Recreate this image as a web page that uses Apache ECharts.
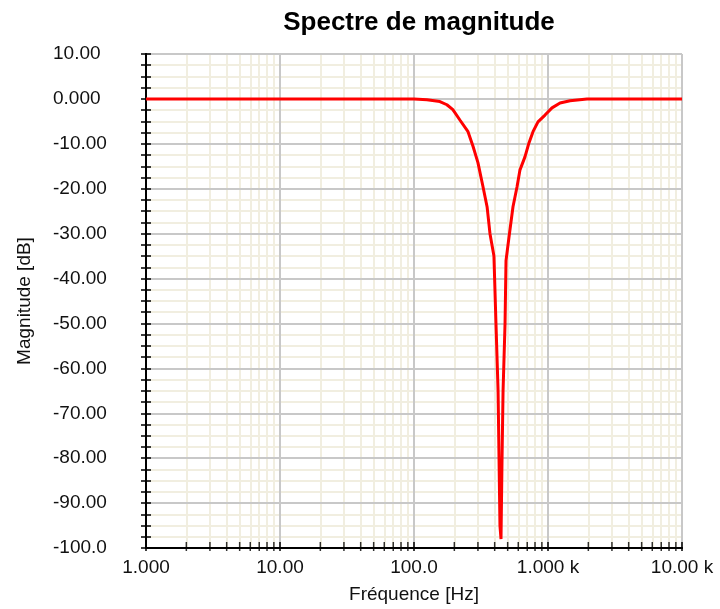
<!DOCTYPE html>
<html>
<head>
<meta charset="utf-8">
<title>Spectre de magnitude</title>
<script src="https://cdn.jsdelivr.net/npm/echarts@6/dist/echarts.min.js"></script>
<style>
	html, body { margin: 0; padding: 0; background: #fff; }
	#SpectreChart { width: 720px; height: 609px; }
</style>
</head>
<body>
<div id="SpectreChart"></div>
<script>
// Réponse en fréquence du filtre coupe-bande
var freqHz = [1, 100, 125, 156, 176, 195, 220, 253, 276, 300, 327, 351, 369, 395, 409, 424, 431, 438, 446,
	454, 462, 478, 486, 512, 548, 587, 618, 673, 721, 773, 842, 950, 1071, 1230, 1460, 1955, 10000];
var magDb = [0, 0, -0.2, -0.6, -1.3, -2.4, -4.7, -7.3, -10.6, -14.2, -19.5, -24, -30, -35, -50, -65, -80, -95, -98,
	-80, -65, -50, -36, -30.7, -24, -19.6, -15.8, -12.9, -9.8, -7.3, -5.1, -3.6, -2, -0.9, -0.4, 0, 0];

// graduations secondaires de l'axe log (2..9 par décade)
var minorFreq = [2, 3, 4, 5, 6, 7, 8, 9, 20, 30, 40, 50, 60, 70, 80, 90,
	200, 300, 400, 500, 600, 700, 800, 900, 2000, 3000, 4000, 5000, 6000, 7000, 8000, 9000];

var yMin = -100, yMax = 10, yStep = 10;
var fMin = 1, fMax = 10000;

var curve = [];
for (var i = 0; i < freqHz.length; i++) {
	curve.push([freqHz[i], magDb[i]]);
}
var minorTickPts = [];
var minorLines = [];
for (var j = 0; j < minorFreq.length; j++) {
	minorTickPts.push([minorFreq[j], yMin]);
	minorLines.push({ xAxis: minorFreq[j] });
}

function fmtX(v) {
	if (v >= 1000) return (v / 1000).toPrecision(4) + ' k';
	return Number(v).toPrecision(4);
}
function fmtY(v) {
	return Number(v).toPrecision(4);
}

var font = 'Liberation Sans, Arial, sans-serif';
var gridGray = '#c8c8c8';
var gridBeige = '#f1eee0';

var SpectreChart = echarts.init(document.getElementById('SpectreChart'));
SpectreChart.setOption({
	animation : false,
	title : {
		text : 'Spectre de magnitude',
		left : 414,
		top : 5,
		textAlign : 'center',
		textStyle : {
			color : '#000',
			fontFamily : font,
			fontWeight : 'bold',
			fontSize : 26
		}
	},
	grid : {
		left : 146,
		right : 38,
		top : 54,
		bottom : 60
	},
	xAxis : [ {
		type : 'log',
		logBase : 10,
		min : fMin,
		max : fMax,
		name : 'Fréquence [Hz]',
		nameLocation : 'middle',
		nameGap : 37,
		nameTextStyle : { color : '#111', fontFamily : font, fontSize : 19 },
		axisLine : { onZero : false, lineStyle : { color : '#000', width : 2 } },
		axisTick : { inside : true, length : 6, lineStyle : { color : '#000', width : 1.5 } },
		axisLabel : { color : '#111', fontFamily : font, fontSize : 19, margin : 10, formatter : fmtX },
		splitLine : { show : true, lineStyle : { color : gridGray, width : 2 } }
	}, {
		type : 'log',
		logBase : 10,
		min : fMin,
		max : fMax,
		position : 'bottom',
		axisLine : { onZero : false, lineStyle : { color : '#000', width : 2 } },
		axisTick : { inside : false, length : 3, lineStyle : { color : '#000', width : 1.5 } },
		axisLabel : { show : false },
		splitLine : { show : false }
	} ],
	yAxis : [ {
		type : 'value',
		min : yMin,
		max : yMax,
		interval : yStep,
		position : 'left',
		name : 'Magnitude [dB]',
		nameLocation : 'middle',
		nameRotate : 90,
		nameGap : 112,
		nameTextStyle : { color : '#111', fontFamily : font, fontSize : 19 },
		axisLine : { onZero : false, lineStyle : { color : '#000', width : 2 } },
		axisTick : { inside : true, length : 5, lineStyle : { color : '#000', width : 1.5 } },
		minorTick : { show : true, splitNumber : 4, length : 5, lineStyle : { color : '#000', width : 1.5 } },
		axisLabel : { color : '#111', fontFamily : font, fontSize : 19, margin : 93, align : 'left', formatter : fmtY },
		splitLine : { show : true, lineStyle : { color : gridGray, width : 2 } },
		minorSplitLine : { show : true, lineStyle : { color : gridBeige, width : 2 } }
	}, {
		type : 'value',
		min : yMin,
		max : yMax,
		interval : yStep,
		position : 'left',
		offset : 0,
		axisLine : { onZero : false, lineStyle : { color : '#000', width : 2 } },
		axisTick : { inside : false, length : 5, lineStyle : { color : '#000', width : 1.5 } },
		minorTick : { show : true, splitNumber : 4, length : 5, lineStyle : { color : '#000', width : 1.5 } },
		axisLabel : { show : false },
		splitLine : { show : false }
	} ],
	series : [ {
		// graduations secondaires + grille verticale secondaire
		type : 'scatter',
		z : 1,
		silent : true,
		symbol : 'rect',
		symbolSize : [ 1.5, 9 ],
		symbolOffset : [ 0, -1.5 ],
		itemStyle : { color : '#000' },
		data : minorTickPts,
		markLine : {
			silent : true,
			z : -1,
			symbol : [ 'none', 'none' ],
			label : { show : false },
			lineStyle : { color : gridBeige, width : 2, type : 'solid' },
			data : minorLines
		}
	}, {
		name : 'Magnitude',
		type : 'line',
		z : 3,
		showSymbol : false,
		data : curve,
		lineStyle : { color : '#ff0000', width : 3 },
		itemStyle : { color : '#ff0000' }
	} ]
});
</script>
</body>
</html>
